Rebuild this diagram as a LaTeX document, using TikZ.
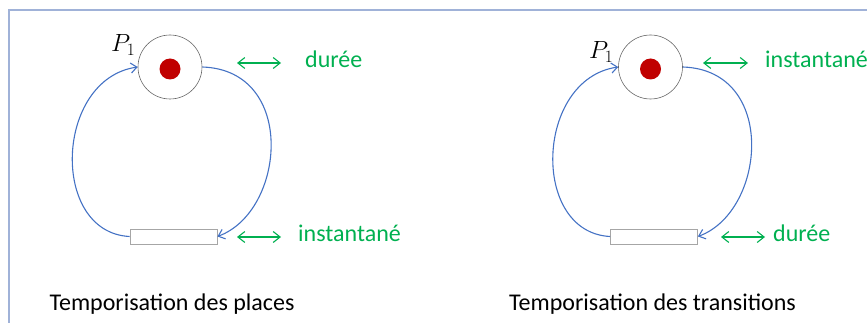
\documentclass[tikz,border=0pt]{standalone}
\usepackage{fontspec}
\setmainfont{Carlito}
\usetikzlibrary{arrows.meta}
\definecolor{flowblue}{RGB}{68,114,196}
\definecolor{delaygreen}{RGB}{0,176,80}
\definecolor{tokenred}{RGB}{192,0,0}
\definecolor{framegray}{RGB}{160,178,216}

\begin{document}
\begin{tikzpicture}[x=1pt, y=-1pt,
  place/.style={circle, draw=black!60, line width=0.6pt, minimum size=64pt, inner sep=0pt},
  trans/.style={rectangle, draw=black!35, line width=0.8pt, minimum width=87pt, minimum height=15pt, inner sep=0pt},
  flow/.style={flowblue, line width=1.1pt, -{Straight Barb[length=6pt,width=10pt]}},
  delay/.style={delaygreen, line width=1.1pt, {Straight Barb[length=7pt,width=11pt]}-{Straight Barb[length=7pt,width=11pt]}},
  lab/.style={font=\fontsize{24}{28}\selectfont, inner sep=0pt, anchor=base west}]
\useasboundingbox (0,0) rectangle (867,323);
\draw[framegray, line width=1.2pt] (9,323) -- (9,10) -- (867,10);
% the two nets
\foreach \i/\dx/\cap in {1/0/{Temporisation des places}, 2/480.5/{Temporisation des transitions}}{
  \node[place] (place\i) at (\dx+170,67) {};
  \fill[tokenred] ([yshift=-2pt]place\i.center) circle[radius=10.5];
  \node[trans] (trans\i) at (\dx+173.5,236.5) {};
  \draw[flow] (place\i.east) .. controls +(95,3) and +(68,-25) .. (trans\i.east);
  \draw[flow] (trans\i.west) .. controls +(-80,-4) and +(-83,12) .. (place\i.west);
  \node[font=\fontsize{24}{28}\selectfont, inner sep=0pt, anchor=base] (cap\i) at (\dx+172,310) {\cap};
}
\node[inner sep=0pt, anchor=base west, font=\fontsize{24}{28}\selectfont] (pname1) at (111,52) {$P_1$};
\node[inner sep=0pt, anchor=base west, font=\fontsize{24}{28}\selectfont] (pname2) at (589,59) {$P_1$};
% timing labels
\coordinate (d1a) at (237,63);  \coordinate (d1b) at (281,63);
\coordinate (d2a) at (237,237); \coordinate (d2b) at (281,237);
\coordinate (d3a) at (703,63);  \coordinate (d3b) at (748,63);
\coordinate (d4a) at (721,237); \coordinate (d4b) at (765,237);
\foreach \k in {1,...,4}{\draw[delay] (d\k a) -- (d\k b);}
\node[lab, delaygreen] (t1) at (305,68) {durée};
\node[lab, delaygreen] (t2) at (298,241) {instantané};
\node[lab, delaygreen] (t3) at (765,68) {instantané};
\node[lab, delaygreen] (t4) at (773,241) {durée};
\end{tikzpicture}
\end{document}
